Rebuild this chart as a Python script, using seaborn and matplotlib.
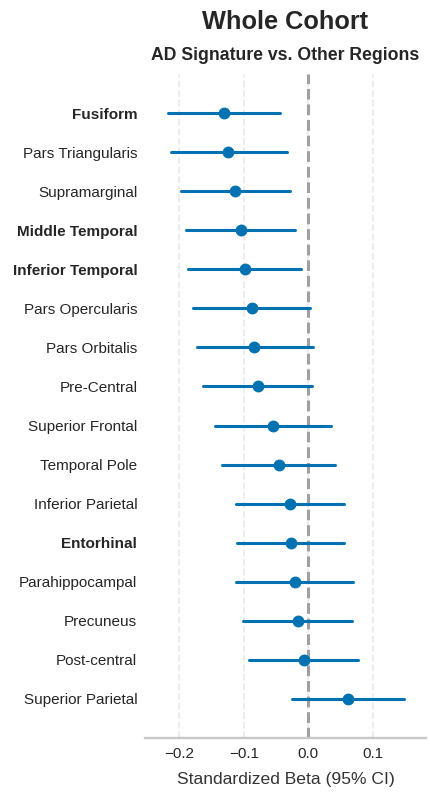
import numpy as np
import pandas as pd
import matplotlib
matplotlib.use("Agg")
import matplotlib.pyplot as plt
import seaborn as sns

regions = ["Fusiform", "Pars Triangularis", "Supramarginal", "Middle Temporal",
           "Inferior Temporal", "Pars Opercularis", "Pars Orbitalis", "Pre-Central",
           "Superior Frontal", "Temporal Pole", "Inferior Parietal", "Entorhinal",
           "Parahippocampal", "Precuneus", "Post-central", "Superior Parietal"]
beta = [-0.1305, -0.124, -0.1135, -0.105, -0.0985, -0.088, -0.0835, -0.078,
        -0.055, -0.046, -0.029, -0.0275, -0.021, -0.0165, -0.0072, 0.061]
ci_low = [-0.217, -0.2125, -0.197, -0.189, -0.186, -0.178, -0.172, -0.163,
          -0.1445, -0.134, -0.1118, -0.110, -0.1118, -0.101, -0.0918, -0.0253]
ci_high = [-0.0438, -0.033, -0.0284, -0.0206, -0.0113, 0.0026, 0.0072, 0.0057,
           0.035, 0.0412, 0.0552, 0.0552, 0.0691, 0.0675, 0.0768, 0.1478]
ad_signature = ["Fusiform", "Middle Temporal", "Inferior Temporal", "Entorhinal"]
xticks = [-0.2, -0.1, 0.0, 0.1]

sns.set_theme(style="white")
plt.rcParams["font.family"] = ["Liberation Sans", "DejaVu Sans"]

# long format: each region carries low, estimate, high; median -> estimate, range -> CI
long = pd.DataFrame({
    "region": np.repeat(regions, 3),
    "value": np.ravel(np.column_stack([ci_low, beta, ci_high])),
})

fig = plt.figure(figsize=(4.3, 7.93), dpi=100)
ax = fig.add_axes([0.3372, 0.0694, 0.6535, 0.8373])

color = "#0072B2"
sns.pointplot(data=long, x="value", y="region", order=regions,
              estimator=np.median, errorbar=lambda v: (v.min(), v.max()),
              linestyle="none", marker="o", markersize=6.5, color=color,
              err_kws={"linewidth": 2.2}, capsize=0, ax=ax, zorder=3)

ax.axvline(0, color="#a0a0a0", lw=2.2, ls=(0, (3.5, 1.6)), zorder=2)
ax.set_xlim(-0.253, 0.182)
ax.set_ylim(len(regions), -1)
ax.set_xticks(xticks)
ax.xaxis.grid(True, color="#ececec", lw=1.3, ls="--", zorder=0)
ax.yaxis.grid(False)
for s in ["left", "right", "top"]:
    ax.spines[s].set_visible(False)
ax.spines["bottom"].set_color("#c8c8c8")
ax.spines["bottom"].set_linewidth(1.7)
ax.tick_params(axis="both", length=0)
ax.tick_params(axis="x", labelsize=11, pad=6.5, colors="#262626")
ax.tick_params(axis="y", labelsize=11, pad=5.5, colors="#262626")
for lab in ax.get_yticklabels():
    if lab.get_text() in ad_signature:
        lab.set_fontweight("bold")
ax.set_ylabel("")
ax.set_xlabel("Standardized Beta (95% CI)", fontsize=12.6, color="#333333", labelpad=8)

ax.set_title("AD Signature vs. Other Regions", fontsize=12.7, fontweight="bold",
             color="#262626", pad=10)
fig.text(0.664, 0.964, "Whole Cohort", ha="center", va="baseline",
         fontsize=18.3, fontweight="bold", color="#262626")

fig.savefig("out.png", dpi=100)
